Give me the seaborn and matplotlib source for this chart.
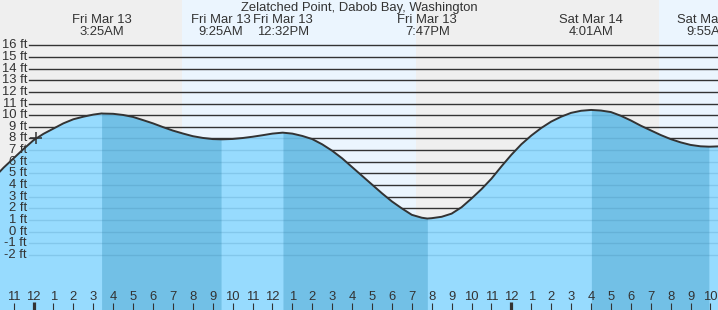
import numpy as np
import pandas as pd
import matplotlib
matplotlib.use("Agg")
import matplotlib.pyplot as plt
import matplotlib.transforms as mtransforms
import seaborn as sns

# ---------------- data ----------------
title = "Zelatched Point, Dabob Bay, Washington"

# half-hourly tide height readings (hours from Fri Mar 13 00:00, feet)
reading_hours = [-2.0, -1.5, -1.0, -0.5, 0.0, 0.5, 1.0, 1.5, 2.0, 2.5,
                 3.0, 3.5, 4.0, 4.5, 5.0, 5.5, 6.0, 6.5, 7.0, 7.5,
                 8.0, 8.5, 9.0, 9.5, 10.0, 10.5, 11.0, 11.5, 12.0, 12.5,
                 13.0, 13.5, 14.0, 14.5, 15.0, 15.5, 16.0, 16.5, 17.0, 17.5,
                 18.0, 18.5, 19.0, 19.5, 20.0, 20.5, 21.0, 21.5, 22.0, 22.5,
                 23.0, 23.5, 24.0, 24.5, 25.0, 25.5, 26.0, 26.5, 27.0, 27.5,
                 28.0, 28.5, 29.0, 29.5, 30.0, 30.5, 31.0, 31.5, 32.0, 32.5,
                 33.0, 33.5, 34.0, 34.5, 35.0]
reading_heights = [4.6, 5.5, 6.3, 7.1, 7.85, 8.4, 8.85, 9.3, 9.65, 9.87,
                   10.05, 10.14, 10.12, 10.02, 9.85, 9.58, 9.3, 8.98, 8.68, 8.43,
                   8.2, 8.05, 7.95, 7.93, 7.96, 8.04, 8.15, 8.28, 8.42, 8.5,
                   8.42, 8.22, 7.95, 7.5, 6.95, 6.3, 5.55, 4.8, 4.05, 3.3,
                   2.6, 2.0, 1.45, 1.2, 1.16, 1.28, 1.55, 2.1, 2.85, 3.65,
                   4.55, 5.6, 6.6, 7.5, 8.25, 8.9, 9.45, 9.87, 10.2, 10.38,
                   10.45, 10.4, 10.27, 9.95, 9.55, 9.1, 8.7, 8.3, 7.95, 7.67,
                   7.45, 7.33, 7.3, 7.33, 7.35]

# high / low tide events
event_hours = [3.42, 9.42, 12.53, 19.78, 28.02, 33.92]
event_heights = [10.15, 7.93, 8.5, 1.13, 10.45, 7.3]
event_dates = ["Fri Mar 13", "Fri Mar 13", "Fri Mar 13", "Fri Mar 13",
               "Sat Mar 14", "Sat Mar 14"]
event_times = ["3:25AM", "9:25AM", "12:32PM", "7:47PM", "4:01AM", "9:55AM"]

# daylight (sunrise, sunset) in hours
day_starts = [7.46, 31.42]
day_ends = [19.23, 40.0]

# current time marker
now_hour = 0.13
now_height = 8.0

# y ticks (ft) and hour ticks
ft_ticks = list(range(-2, 17))
hour_ticks = list(range(-1, 35))
hour_labels = ["11", "12", "1", "2", "3", "4", "5", "6", "7", "8", "9", "10",
               "11", "12", "1", "2", "3", "4", "5", "6", "7", "8", "9", "10",
               "11", "12", "1", "2", "3", "4", "5", "6", "7", "8", "9", "10"]
midnights = [0, 24]

# ---------------- build ----------------
curve = pd.DataFrame({"hour": reading_hours + event_hours,
                      "height": reading_heights + event_heights})
curve = curve.sort_values("hour").drop_duplicates("hour").reset_index(drop=True)

W, H = 718, 310
DPI = 100
fig = plt.figure(figsize=(W / DPI, H / DPI), dpi=DPI)
ax = fig.add_axes([0, 0, 1, 1])

px_per_hour = 19.91
x0_px = 33.5
px_per_ft = 11.65
y0_px = 231.7
xlim = (-x0_px / px_per_hour, (W - x0_px) / px_per_hour)
ylim = (-(H - y0_px) / px_per_ft, y0_px / px_per_ft)
ax.set_xlim(*xlim)
ax.set_ylim(*ylim)
for s in ax.spines.values():
    s.set_visible(False)
ax.set_xticks([])
ax.set_yticks([])

FONT = "Liberation Sans"
FS = 9.4
TXT = "#333333"

night_col = "#efefef"
day_col = "#ebf5fe"
light_water = "#97dbfe"
dark_water = "#72c0e6"

ax.set_facecolor(night_col)
for a, b in zip(day_starts, day_ends):
    ax.axvspan(a, b, color=day_col, lw=0, zorder=0)

# grid lines (start a bit left of midnight)
grid_xmin = 29 / W
for f in ft_ticks:
    ax.axhline(f, xmin=grid_xmin, xmax=1, color="#333333", lw=1.0, zorder=1)

# water fill
t = curve["hour"].to_numpy()
h = curve["height"].to_numpy()
water = ax.fill_between(t, h, ylim[0], color=light_water, lw=0, zorder=2)
# falling tide bands (high -> low) darker
for i in range(len(event_hours) - 1):
    if event_heights[i] > event_heights[i + 1]:
        a, b = event_hours[i], event_hours[i + 1]
        m = (t >= a) & (t <= b)
        ax.fill_between(t, h, ylim[0], where=m, color=dark_water, lw=0, zorder=2)

# faint grid lines within water
clip_path = water.get_paths()[0]
for f in ft_ticks:
    ln = ax.axhline(f, xmin=grid_xmin, xmax=1, color="#2a6f95", lw=1.0,
                    alpha=0.18, zorder=3)
    ln.set_clip_path(clip_path, ax.transData)

# tide curve
sns.lineplot(data=curve, x="hour", y="height", ax=ax, color="#333333",
             lw=1.4, zorder=4, legend=False)
ax.set_xlabel("")
ax.set_ylabel("")
ax.set_xlim(*xlim)
ax.set_ylim(*ylim)

# now marker
ax.plot([now_hour], [now_height], marker="+", ms=9, mew=1.1, color="#333333",
        zorder=5, ls="none")

# y labels
ylab_tr = mtransforms.blended_transform_factory(ax.transAxes, ax.transData)
for f in ft_ticks:
    ax.text(27 / W, f, f"{f} ft", transform=ylab_tr, ha="right", va="center",
            fontsize=FS, family=FONT, color=TXT, zorder=6)

# hour labels and ticks
xlab_tr = mtransforms.blended_transform_factory(ax.transData, ax.transAxes)
for hr, lab in zip(hour_ticks, hour_labels):
    ax.text(hr, 13 / H, lab, transform=xlab_tr, ha="center", va="center",
            fontsize=FS, family=FONT, color=TXT, zorder=6)
    ax.plot([hr, hr], [0, 7 / H], transform=xlab_tr, color="#333333",
            lw=0.8, zorder=6, solid_capstyle="butt")
for hr in midnights:
    ax.plot([hr, hr], [0, 8 / H], transform=xlab_tr, color="#333333",
            lw=2.3, zorder=6, solid_capstyle="butt")

# event labels (the last one is cut by the right edge, as in the source)
for hr, d, tm in zip(event_hours, event_dates, event_times):
    ax.text(hr, 1 - 20 / H, d, transform=xlab_tr, ha="center", va="center",
            fontsize=FS, family=FONT, color=TXT, zorder=6)
    ax.text(hr, 1 - 32 / H, tm, transform=xlab_tr, ha="center", va="center",
            fontsize=FS, family=FONT, color=TXT, zorder=6)

# title
ax.text(0.5, 1 - 7.5 / H, title, transform=ax.transAxes, ha="center",
        va="center", fontsize=FS, family=FONT, color=TXT, zorder=6)

fig.savefig("out.png", dpi=DPI)
